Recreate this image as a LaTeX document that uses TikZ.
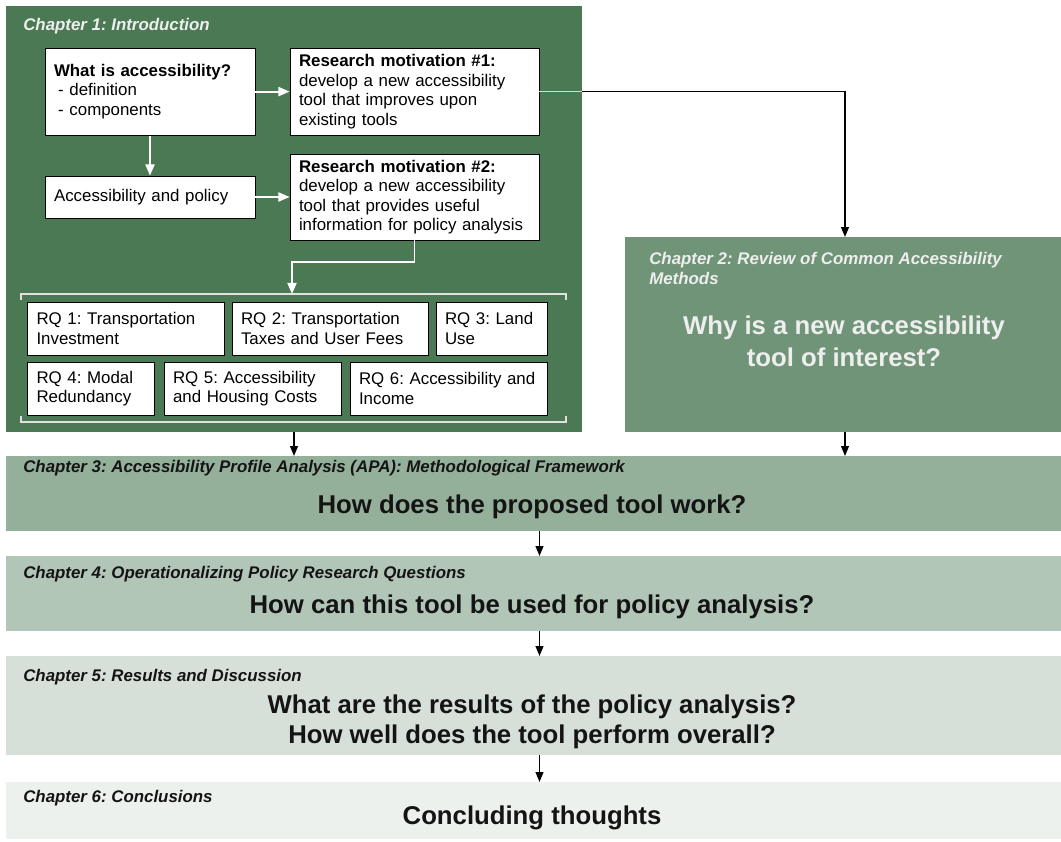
\documentclass[tikz,border=0pt]{standalone}
\usepackage{fontspec}
\setmainfont{Liberation Sans}
\usepackage{xcolor}
\usepackage{tikz}
\usetikzlibrary{arrows.meta, positioning, calc}
\definecolor{chapone}{RGB}{74,121,84}
\definecolor{chaptwo}{RGB}{111,148,119}
\definecolor{chapthree}{RGB}{149,176,154}
\definecolor{chapfour}{RGB}{178,198,183}
\definecolor{chapfive}{RGB}{214,224,216}
\definecolor{chapsix}{RGB}{236,241,237}
\definecolor{lighttext}{RGB}{238,238,238}
\definecolor{darktext}{RGB}{20,20,20}

\begin{document}
\frenchspacing
\hyphenpenalty=10000
\exhyphenpenalty=10000
\begin{tikzpicture}[
    chapter/.style={inner sep=0pt, outer sep=0pt},
    chaptitle/.style={anchor=west, inner sep=0pt, align=left, font=\fontsize{12}{14.2}\selectfont\bfseries\itshape},
    question/.style={inner sep=0pt, align=center, font=\fontsize{18.3}{21.3}\selectfont\bfseries},
    infobox/.style={draw=black, line width=0.6pt, fill=white, align=left, inner xsep=0.225cm, inner ysep=0pt, font=\fontsize{12}{13.9}\selectfont},
    whitearrow/.style={draw=white, line width=1.4pt, -{Triangle[length=8pt, width=6.5pt]}},
    blackarrow/.style={draw=black, line width=1.1pt, -{Triangle[length=7pt, width=5.5pt]}},
    bracket/.style={draw=white!88!black, line width=1.4pt}
]
    \fill[white] (0,0) rectangle (26.525,-21.05);

    % Chapter blocks
    \node[chapter, fill=chapone, minimum width=14.4cm, minimum height=10.65cm] (chone) at (7.35,-5.475) {};
    \node[chapter, fill=chaptwo, minimum width=10.9cm, minimum height=4.875cm] (chtwo) at (21.075,-8.3625) {};
    \node[chapter, fill=chapthree, minimum width=26.375cm, minimum height=1.875cm] (chthree) at (13.3375,-12.3375) {};
    \node[chapter, fill=chapfour, minimum width=26.375cm, minimum height=1.875cm] (chfour) at (13.3375,-14.8375) {};
    \node[chapter, fill=chapfive, minimum width=26.375cm, minimum height=2.475cm] (chfive) at (13.3375,-17.6375) {};
    \node[chapter, fill=chapsix, minimum width=26.375cm, minimum height=1.425cm] (chsix) at (13.3375,-20.2625) {};

    % Chapter titles
    \node[chaptitle, lighttext] (tone) at (0.575,-0.65) {Chapter 1: Introduction};
    \node[chaptitle, lighttext] (ttwo) at (16.225,-6.7) {Chapter 2: Review of Common Accessibility\\Methods};
    \node[chaptitle, darktext] (tthree) at (0.575,-11.7) {Chapter 3: Accessibility Profile Analysis (APA): Methodological Framework};
    \node[chaptitle, darktext] (tfour) at (0.575,-14.35) {Chapter 4: Operationalizing Policy Research Questions};
    \node[chaptitle, darktext] (tfive) at (0.575,-16.925) {Chapter 5: Results and Discussion};
    \node[chaptitle, darktext] (tsix) at (0.575,-19.95) {Chapter 6: Conclusions};

    % Guiding questions
    \node[question, lighttext, font=\fontsize{18.3}{22.8}\selectfont\bfseries] (qtwo) at (21.1,-8.525) {Why is a new accessibility\\tool of interest?};
    \node[question, darktext] (qthree) at (13.3,-12.675) {How does the proposed tool work?};
    \node[question, darktext] (qfour) at (13.3,-15.175) {How can this tool be used for policy analysis?};
    \node[question, darktext] (qfive) at (13.3,-18.05) {What are the results of the policy analysis?\\How well does the tool perform overall?};
    \node[question, darktext] (qsix) at (13.3,-20.45) {Concluding thoughts};

    % Introduction content
    \node[infobox, text width=4.8cm, minimum height=2.175cm] (whatis) at (3.75,-2.29) {\textbf{What is accessibility?}\\\hspace*{3pt}- definition\\\hspace*{3pt}- components};
    \node[infobox, text width=5.775cm, minimum height=2.175cm] (rmone) at (10.3625,-2.29) {\textbf{Research motivation \#1:}\\develop a new accessibility\\tool that improves upon\\existing tools};
    \node[infobox, text width=4.8cm, minimum height=1.05cm] (accpol) at (3.75,-4.925) {Accessibility and policy};
    \node[infobox, text width=5.775cm, minimum height=2.15cm] (rmtwo) at (10.3625,-4.925) {\textbf{Research motivation \#2:}\\develop a new accessibility\\tool that provides useful\\information for policy analysis};

    % Research questions
    \node[infobox, text width=4.4625cm, minimum height=1.325cm] (rqone) at (3.144,-8.2125) {RQ 1: Transportation\\Investment};
    \node[infobox, text width=4.45cm, minimum height=1.325cm] (rqtwo) at (8.25,-8.2125) {RQ 2: Transportation\\Taxes and User Fees};
    \node[infobox, text width=2.325cm, minimum height=1.325cm] (rqthree) at (12.2875,-8.2125) {RQ 3: Land\\Use};
    \node[infobox, text width=2.7125cm, minimum height=1.325cm] (rqfour) at (2.269,-9.7125) {RQ 4: Modal\\Redundancy};
    \node[infobox, text width=3.975cm, minimum height=1.325cm] (rqfive) at (6.3125,-9.7125) {RQ 5: Accessibility\\and Housing Costs};
    \node[infobox, text width=4.475cm, minimum height=1.325cm] (rqsix) at (11.2125,-9.7125) {RQ 6: Accessibility and\\Income};

    % Bracket round the research questions
    \coordinate (brtl) at (0.525,-7.35);
    \coordinate (brbr) at (14.15,-10.55);
    \coordinate (brtop) at (7.3,-7.35);
    \draw[bracket] ($(brtl)+(0,-0.15)$) -- (brtl) -- (brtl -| brbr) -- ++(0,-0.15);
    \draw[bracket] ($(brbr -| brtl)+(0,0.15)$) -- (brbr -| brtl) -- (brbr) -- ++(0,0.15);

    % Arrows inside chapter 1
    \draw[whitearrow] (whatis.east) -- (rmone.west);
    \draw[whitearrow] (whatis.south) -- (accpol.north);
    \draw[whitearrow] (accpol.east) -- (rmtwo.west);
    \draw[whitearrow] (rmtwo.south) -- ++(0,-0.55) -| (brtop);

    % Arrows between chapters
    \draw[blackarrow] (rmone.east) -| ([xshift=0.05cm]chtwo.north);
    \draw[white!85!black, line width=1.1pt] (rmone.east) -- (rmone.east -| chone.east);
    \draw[blackarrow] (chone.south) -- (chone.south |- chthree.north);
    \draw[blackarrow] ([xshift=0.05cm]chtwo.south) -- ++(0,-0.6);
    \foreach \a/\b in {chthree/chfour, chfour/chfive, chfive/chsix}
        \draw[blackarrow] ([xshift=0.15cm]\a.south) -- ([xshift=0.15cm]\b.north);
\end{tikzpicture}
\end{document}
